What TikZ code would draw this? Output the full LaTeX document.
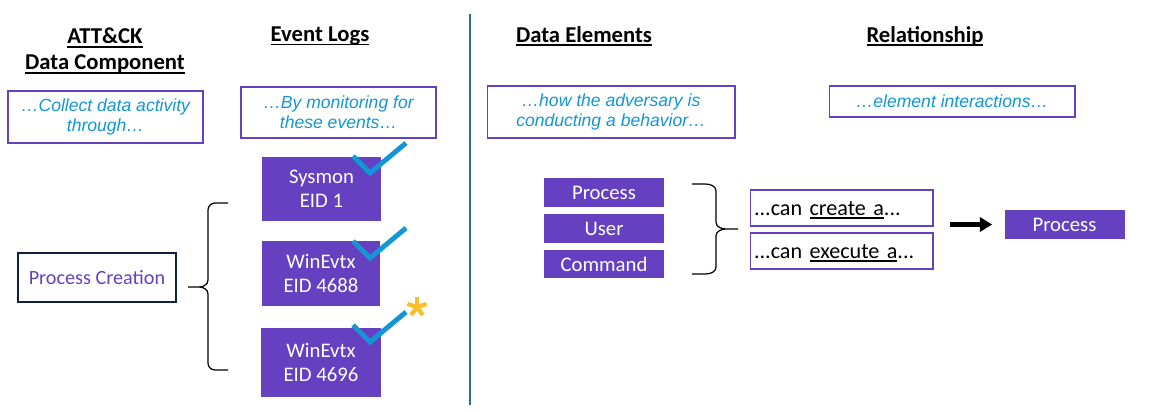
\documentclass[tikz,border=0pt]{standalone}
\usepackage{fontspec}
\setmainfont{Carlito}
\newfontfamily\hintfont{Liberation Sans}
\usetikzlibrary{arrows.meta}
\definecolor{evpurple}{RGB}{101,65,193}
\definecolor{hintblue}{RGB}{18,150,212}
\definecolor{splitblue}{RGB}{44,106,158}
\definecolor{edgenavy}{RGB}{14,34,64}
\definecolor{stargold}{RGB}{252,190,40}
\newcommand{\ulin}[1]{\leavevmode\setbox0\hbox{#1}\rlap{\rule[-2.2pt]{\wd0}{1pt}}\box0}
\newcommand{\bluetick}[2]{\draw[hintblue, line width=2.8pt] ( #1 , #2 ) -- ++(17,17) -- ++(36,-30);}
\newcommand{\goldstar}[2]{\foreach \ang in {90,18,162,234,306} \draw[stargold, line width=2.4pt] ( #1 , #2 ) -- ++(\ang:0.2cm);}
\tikzset{
  head/.style={font=\fontsize{12.9}{14.7}\selectfont\bfseries, align=center},
  hint/.style={draw=evpurple, line width=0.6pt, text=hintblue, align=center, inner sep=0pt,
    font=\hintfont\itshape\fontsize{10}{11.6}\selectfont},
  logbox/.style={fill=evpurple, text=white, align=center, inner sep=0pt,
    font=\fontsize{11.8}{13.6}\selectfont},
  elembox/.style={logbox, minimum width=2.4cm, minimum height=0.58cm},
  relbox/.style={draw=evpurple, line width=0.6pt, minimum width=3.66cm, minimum height=0.72cm,
    text width=3.5cm, align=left, inner xsep=0.08cm, inner ysep=0pt, text height=10pt, text depth=2pt,
    font=\fontsize{12.6}{14}\selectfont},
  brc/.style={line width=0.7pt},
}
\begin{document}
\begin{tikzpicture}[x=0.02cm, y=-0.02cm]
        \useasboundingbox (0,0) rectangle (1149,412);
        % headings
        \node[head] (hComp) at (105,51) {\ulin{ATT\&CK}\\\ulin{Data Component}};
        \node[head] (hLogs) at (320,36) {\ulin{Event Logs}};
        \node[head] (hElem) at (584,36) {\ulin{Data Elements}};
        \node[head] (hRel) at (925,36) {\ulin{Relationship}};
        % split line
        \draw[splitblue, line width=1.1pt] (470,14) -- (470,405);
        % hints
        \node[hint, minimum width=3.9cm, minimum height=1.04cm] (hintA) at (105.5,117) {\dots Collect data activity\\through\dots};
        \node[hint, minimum width=3.9cm, minimum height=1.02cm] (hintB) at (338.5,112.5) {\dots By monitoring for\\these events\dots};
        \node[hint, minimum width=4.96cm, minimum height=1.04cm] (hintC) at (611,112) {\dots how the adversary is\\conducting a behavior\dots};
        \node[hint, minimum width=4.92cm, minimum height=0.62cm] (hintD) at (952,101.5) {\dots element interactions\dots};
        % component
        \node[draw=edgenavy, line width=0.6pt, text=evpurple, minimum width=3.16cm, minimum height=0.98cm,
          font=\fontsize{11.5}{13}\selectfont] (comp) at (97,277.5) {Process Creation};
        \draw[brc] (228,203) -- (215,203) to[out=180,in=90] (208,210) -- (208,280) to[out=-90,in=0] (199,287) -- (188,287)
                   (199,287) to[out=0,in=90] (208,294) -- (208,363) to[out=-90,in=180] (215,370) -- (228,370);
        % logs
        \node[logbox, minimum width=2.38cm, minimum height=1.28cm] (sysmon) at (321.5,189) {Sysmon\\EID 1};
        \node[logbox, minimum width=2.36cm, minimum height=1.3cm] (evtA) at (321,273.5) {WinEvtx\\EID 4688};
        \node[logbox, minimum width=2.4cm, minimum height=1.38cm] (evtB) at (321,362.5) {WinEvtx\\EID 4696};
        \bluetick{353}{156}
        \bluetick{353}{241}
        \bluetick{353}{325}
        \goldstar{417}{307}
        % elements
        \node[elembox] (eProc) at (604,192.5) {Process};
        \node[elembox] (eUser) at (604,228.5) {User};
        \node[elembox] (eCmd) at (604,264) {Command};
        \draw[brc] (692,184) -- (705,184) to[out=0,in=90] (716,191) -- (716,222) to[out=-90,in=180] (726,229) -- (738,229)
                   (726,229) to[out=180,in=90] (716,236) -- (716,267) to[out=-90,in=0] (705,274) -- (692,274);
        % relationship
        \node[relbox] (rCreate) at (841.5,208) {...can \ulin{create a}...};
        \node[relbox] (rExec) at (841.5,251) {...can \ulin{execute a}...};
        \node[elembox] (tProc) at (1064.5,224.5) {Process};
        \coordinate (arrTail) at (950,224.5);
        \draw[line width=2.4pt, -{Triangle[length=7pt, width=8pt]}, shorten >=0.24cm] (arrTail) -- (tProc.west);
\end{tikzpicture}
\end{document}
